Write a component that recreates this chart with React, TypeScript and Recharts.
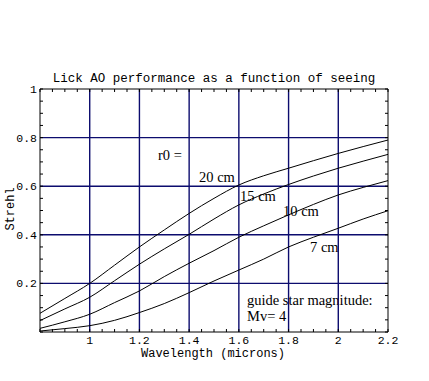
import React from "react";
import { LineChart, Line, XAxis, YAxis, ReferenceLine } from "recharts";

const wavelengths = [0.8, 0.9, 1.0, 1.1, 1.2, 1.3, 1.4, 1.5, 1.6, 1.7, 1.8, 1.9, 2.0, 2.1, 2.2];
const strehl20 = [0.077, 0.138, 0.2, 0.275, 0.35, 0.42, 0.488, 0.55, 0.605, 0.643, 0.674, 0.705, 0.735, 0.763, 0.79];
const strehl15 = [0.047, 0.095, 0.143, 0.211, 0.279, 0.342, 0.402, 0.465, 0.523, 0.568, 0.607, 0.642, 0.674, 0.703, 0.731];
const strehl10 = [0.015, 0.042, 0.073, 0.121, 0.169, 0.228, 0.283, 0.335, 0.39, 0.437, 0.482, 0.525, 0.564, 0.595, 0.623];
const strehl7 = [0.004, 0.014, 0.026, 0.048, 0.08, 0.117, 0.162, 0.21, 0.255, 0.3, 0.35, 0.39, 0.427, 0.465, 0.499];

const majorX = [1, 1.2, 1.4, 1.6, 1.8, 2, 2.2];
const majorXLabels = ["1", "1.2", "1.4", "1.6", "1.8", "2", "2.2"];
const gridX = [1, 1.2, 1.4, 1.6, 1.8, 2];
const allX = [0.8, 0.85, 0.9, 0.95, 1, 1.05, 1.1, 1.15, 1.2, 1.25, 1.3, 1.35, 1.4, 1.45, 1.5, 1.55, 1.6, 1.65, 1.7, 1.75, 1.8, 1.85, 1.9, 1.95, 2, 2.05, 2.1, 2.15, 2.2];

const majorY = [0.2, 0.4, 0.6, 0.8, 1];
const majorYLabels = ["0.2", "0.4", "0.6", "0.8", "1"];
const gridY = [0.2, 0.4, 0.6, 0.8];
const allY = [0, 0.05, 0.1, 0.15, 0.2, 0.25, 0.3, 0.35, 0.4, 0.45, 0.5, 0.55, 0.6, 0.65, 0.7, 0.75, 0.8, 0.85, 0.9, 0.95, 1];

const data = wavelengths.map((w, i) => ({
  w,
  s20: strehl20[i],
  s15: strehl15[i],
  s10: strehl10[i],
  s7: strehl7[i],
}));

const MONO = '"Liberation Mono", "Courier New", "DejaVu Sans Mono", monospace';
const SERIF = '"Liberation Serif", "Times New Roman", "DejaVu Serif", serif';
const GRID = "#0c0c6e";
const TICK = 3;

const labelFor = (v: number, majors: number[], labels: string[]) => {
  const i = majors.findIndex((m) => Math.abs(m - v) < 1e-6);
  return i >= 0 ? labels[i] : null;
};

const BottomTick = (props: any) => {
  const { x, y, payload } = props;
  const lab = labelFor(payload.value, majorX, majorXLabels);
  return (
    <g>
      <line x1={x} y1={y} x2={x} y2={y - TICK} stroke="#000" strokeWidth={1} />
      {lab && (
        <text x={x} y={y + 12} textAnchor="middle" fontFamily={MONO} fontSize={11.5} fill="#000">
          {lab}
        </text>
      )}
    </g>
  );
};

const TopTick = (props: any) => {
  const { x, y } = props;
  return <line x1={x} y1={y} x2={x} y2={y + TICK} stroke="#000" strokeWidth={1} />;
};

const LeftTick = (props: any) => {
  const { x, y, payload } = props;
  const lab = labelFor(payload.value, majorY, majorYLabels);
  return (
    <g>
      <line x1={x} y1={y} x2={x + TICK} y2={y} stroke="#000" strokeWidth={1} />
      {lab && (
        <text x={x - 3} y={y + 4} textAnchor="end" fontFamily={MONO} fontSize={11.5} fill="#000">
          {lab}
        </text>
      )}
    </g>
  );
};

const RightTick = (props: any) => {
  const { x, y } = props;
  return <line x1={x} y1={y} x2={x - TICK} y2={y} stroke="#000" strokeWidth={1} />;
};

const annot = { fontFamily: SERIF, fontSize: 14.5, fill: "#000" } as const;

export default function App() {
  return (
    <div style={{ position: "absolute", left: 0, top: 0, background: "#fff" }}>
      <LineChart
        width={429}
        height={381}
        data={data}
        margin={{ top: 88, right: 40, bottom: 48, left: 39 }}
        style={{ background: "#fff" }}
      >
        <XAxis
          xAxisId="bottom"
          dataKey="w"
          type="number"
          domain={[0.8, 2.2]}
          ticks={allX}
          interval={0}
          tickSize={0}
          tickMargin={0}
          tickLine={false}
          tick={BottomTick}
          axisLine={{ stroke: "#000", strokeWidth: 1 }}
          height={1}
          allowDataOverflow
        />
        <XAxis
          xAxisId="top"
          orientation="top"
          dataKey="w"
          type="number"
          domain={[0.8, 2.2]}
          ticks={allX}
          interval={0}
          tickSize={0}
          tickMargin={0}
          tickLine={false}
          tick={TopTick}
          axisLine={{ stroke: "#000", strokeWidth: 1 }}
          height={1}
          allowDataOverflow
        />
        <YAxis
          yAxisId="left"
          type="number"
          domain={[0, 1]}
          ticks={allY}
          interval={0}
          tickSize={0}
          tickMargin={0}
          tickLine={false}
          tick={LeftTick}
          axisLine={{ stroke: "#000", strokeWidth: 1 }}
          width={1}
          allowDataOverflow
        />
        <YAxis
          yAxisId="right"
          orientation="right"
          dataKey="s20"
          type="number"
          domain={[0, 1]}
          ticks={allY}
          interval={0}
          tickSize={0}
          tickMargin={0}
          tickLine={false}
          tick={RightTick}
          axisLine={{ stroke: "#000", strokeWidth: 1 }}
          width={1}
          allowDataOverflow
        />
        {gridX.map((v) => (
          <ReferenceLine key={"gx" + v} x={v} xAxisId="bottom" yAxisId="left" stroke={GRID} strokeWidth={1.4} />
        ))}
        {gridY.map((v) => (
          <ReferenceLine key={"gy" + v} y={v} xAxisId="bottom" yAxisId="left" stroke={GRID} strokeWidth={1.4} />
        ))}
        <Line xAxisId="bottom" yAxisId="left" type="monotone" dataKey="s20" stroke="#000" strokeWidth={1} dot={false} isAnimationActive={false} />
        <Line xAxisId="bottom" yAxisId="left" type="monotone" dataKey="s15" stroke="#000" strokeWidth={1} dot={false} isAnimationActive={false} />
        <Line xAxisId="bottom" yAxisId="left" type="monotone" dataKey="s10" stroke="#000" strokeWidth={1} dot={false} isAnimationActive={false} />
        <Line xAxisId="bottom" yAxisId="left" type="monotone" dataKey="s7" stroke="#000" strokeWidth={1} dot={false} isAnimationActive={false} />

        <text x={214} y={82} textAnchor="middle" fontFamily={MONO} fontSize={12.5} fill="#000">
          Lick AO performance as a function of seeing
        </text>
        <text x={213} y={357} textAnchor="middle" fontFamily={MONO} fontSize={12} fill="#000">
          Wavelength (microns)
        </text>
        <text
          x={14}
          y={209}
          textAnchor="middle"
          fontFamily={MONO}
          fontSize={12}
          fill="#000"
          transform="rotate(-90 14 209)"
        >
          Strehl
        </text>
        <text x={158} y={160} {...annot}>r0 =</text>
        <text x={199} y={182} {...annot}>20 cm</text>
        <text x={240} y={201} {...annot}>15 cm</text>
        <text x={283} y={216} {...annot}>10 cm</text>
        <text x={310} y={252} {...annot}>7 cm</text>
        <text x={247} y={305} {...annot}>guide star magnitude:</text>
        <text x={247} y={321} {...annot}>Mv= 4</text>
      </LineChart>
    </div>
  );
}
